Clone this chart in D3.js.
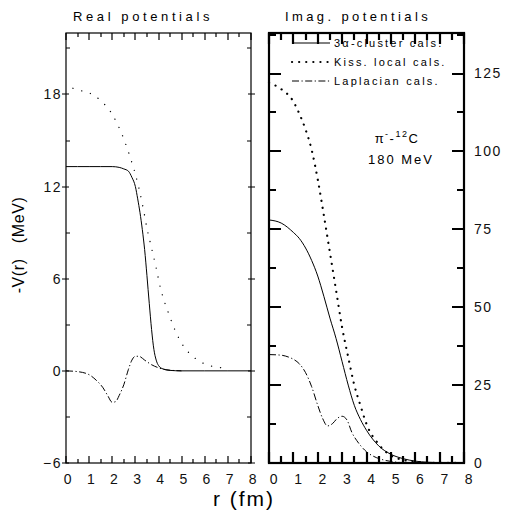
<!DOCTYPE html>
<html>
<head>
<meta charset="utf-8">
<script src="https://cdn.jsdelivr.net/npm/d3@7"></script>
<style>
  body { margin: 0; background: #fff; }
  svg { display: block; font-family: "Liberation Sans", Arial, sans-serif; }
</style>
</head>
<body>
<svg width="514" height="514"></svg>
<script>
// radius grid and potentials (MeV)
var rReal = [0, 0.5, 1, 1.5, 2, 2.3, 2.5, 2.7, 2.85, 3.0, 3.1, 3.2, 3.3, 3.4, 3.5, 3.6, 3.7, 3.8, 3.9, 4.0, 4.2, 4.5, 5, 6, 7, 8];
var realCluster = [13.3, 13.3, 13.3, 13.3, 13.3, 13.25, 13.15, 13.0, 12.6, 12.0, 11.2, 10.3, 9.2, 7.9, 6.2, 4.4, 2.7, 1.4, 0.7, 0.35, 0.12, 0.03, 0, 0, 0, 0];

var rKissReal = [0.3, 0.5, 1, 1.5, 2, 2.5, 2.8, 3.0, 3.3, 3.5, 3.7, 3.9, 4.1, 4.4, 4.7, 5.0, 5.3, 5.6, 6.0, 6.5, 7.0];
var realKiss = [18.4, 18.3, 18.1, 17.6, 16.7, 15.1, 13.8, 12.8, 10.9, 9.3, 8.0, 6.7, 5.3, 3.9, 2.7, 1.8, 1.2, 0.8, 0.45, 0.25, 0.18];

var rLapReal = [0, 0.5, 1, 1.3, 1.6, 1.8, 2.0, 2.15, 2.3, 2.5, 2.7, 2.85, 3.0, 3.15, 3.4, 3.7, 4.0, 4.3, 4.7, 5];
var realLap = [0, -0.05, -0.25, -0.6, -1.1, -1.6, -2.05, -2.0, -1.6, -0.9, 0.1, 0.7, 0.95, 0.95, 0.7, 0.4, 0.2, 0.08, 0.02, 0];

var rImag = [0, 0.5, 1.0, 1.25, 1.5, 1.75, 2.0, 2.25, 2.5, 2.75, 3.0, 3.25, 3.5, 3.75, 4.0, 4.5, 5.0, 5.5, 6.0, 6.5, 7.0, 8];
var imagCluster = [78, 77, 74, 72, 69, 65, 60, 53.5, 46.5, 40, 32.5, 25, 18.5, 14, 10.5, 5.5, 2.8, 1.4, 0.6, 0.25, 0.1, 0];
var imagKiss = [122, 120, 116, 112, 107, 100.5, 91, 79.5, 67.5, 55.5, 43.5, 34, 25, 18.5, 12.5, 6, 2.4, 1.0, 0.4, 0.15, 0.05, 0];

var rLapImag = [0, 0.5, 0.8, 1.0, 1.25, 1.5, 1.75, 2.0, 2.2, 2.4, 2.6, 2.8, 3.0, 3.2, 3.4, 3.6, 3.8, 4.0, 4.3, 4.6, 5.0, 5.5, 6, 8];
var imagLap = [34.8, 34.6, 34, 33.3, 31.8, 29, 24.5, 18.5, 14.3, 11.9, 12.6, 14.3, 15.0, 13.8, 9.8, 7.2, 5.2, 3.6, 2.1, 1.2, 0.5, 0.1, 0, 0];

var realTicks = [-6, 0, 6, 12, 18];
var realMinor = [-3, 3, 9, 15, 21];
var imagTicks = [0, 25, 50, 75, 100, 125];
var imagMinor = [12.5, 37.5, 62.5, 87.5, 112.5, 137.5];
var rTicks = [0, 1, 2, 3, 4, 5, 6, 7, 8];
var rMinor = [0.5, 1.5, 2.5, 3.5, 4.5, 5.5, 6.5, 7.5];
var legendNames = ["3\u03b1-cluster cals.", "Kiss. local cals.", "Laplacian cals."];

var svg = d3.select("svg");
var yTop = 33, yBottom = 463;

// left panel: real part
var xL = d3.scaleLinear().domain([0, 8]).range([66, 251]);
var yL = d3.scaleLinear().domain([-6, 22]).range([yBottom, yTop]);
// right panel: imaginary part
var xR = d3.scaleLinear().domain([0, 8]).range([269, 464]);
var yR = d3.scaleLinear().domain([0, 138]).range([yBottom, yTop]);

// all tick marks go into one path per panel, then the frame on top
function tickPath(x, y, xMaj, xMin, yMaj, yMin, w) {
  var x0 = x.range()[0], x1 = x.range()[1];
  var p = d3.path();
  rTicks.forEach(function (d) {
    var px = Math.round(x(d));
    p.moveTo(px, yBottom); p.lineTo(px, yBottom - xMaj);
    p.moveTo(px, yTop); p.lineTo(px, yTop + xMaj);
  });
  rMinor.forEach(function (d) {
    var px = Math.round(x(d));
    p.moveTo(px, yBottom); p.lineTo(px, yBottom - xMin);
    p.moveTo(px, yTop); p.lineTo(px, yTop + xMin);
  });
  yMaj.vals.forEach(function (d) {
    var py = Math.round(y(d));
    p.moveTo(x0 - yMaj.out, py); p.lineTo(x0 + yMaj.len, py);
    p.moveTo(x1 + yMaj.out, py); p.lineTo(x1 - yMaj.len, py);
  });
  yMin.vals.forEach(function (d) {
    var py = Math.round(y(d));
    p.moveTo(x0, py); p.lineTo(x0 + yMin.len, py);
    p.moveTo(x1, py); p.lineTo(x1 - yMin.len, py);
  });
  svg.append("path").attr("d", p.toString())
    .attr("fill", "none").attr("stroke", "#000").attr("stroke-width", w);
  svg.append("rect")
    .attr("x", x0).attr("y", yTop)
    .attr("width", x1 - x0).attr("height", yBottom - yTop)
    .attr("fill", "none").attr("stroke", "#000").attr("stroke-width", w);
}

tickPath(xL, yL, 7, 4, { vals: realTicks, len: 3, out: 4 }, { vals: realMinor, len: 4 }, 1.2);
tickPath(xR, yR, 11, 7, { vals: imagTicks, len: 12, out: 0 }, { vals: imagMinor, len: 7 }, 2.2);

// tick labels
function labelAxis(axis, scale, vals, tx, ty, pad) {
  var g = svg.append("g")
    .attr("transform", "translate(" + tx + "," + ty + ")")
    .call(axis(scale).tickValues(vals).tickSize(0).tickPadding(pad));
  g.select(".domain").remove();
  g.selectAll("text")
    .attr("font-family", "Liberation Sans, Arial, sans-serif")
    .attr("font-size", 14).attr("fill", "#111")
    .style("letter-spacing", "1.5px");
  return g;
}
labelAxis(d3.axisBottom, xL, rTicks, 2, yBottom, 11);
labelAxis(d3.axisBottom, xR, rTicks, 5, yBottom, 11);
labelAxis(d3.axisLeft, yL, realTicks, 66, 0, 4);
labelAxis(d3.axisRight, yR, imagTicks, 464, 0, 10).selectAll("text").attr("text-anchor", "start");

// titles
svg.append("text").attr("x", 143).attr("y", 21).attr("text-anchor", "middle")
  .attr("font-size", 13).style("letter-spacing", "3.6px").text("Real potentials");
svg.append("text").attr("x", 358).attr("y", 21).attr("text-anchor", "middle")
  .attr("font-size", 13).style("letter-spacing", "3.4px").text("Imag. potentials");
svg.append("text").attr("x", 244).attr("y", 506).attr("text-anchor", "middle")
  .attr("font-size", 21).style("letter-spacing", "2px").text("r (fm)");
svg.append("text")
  .attr("transform", "translate(24,245) rotate(-90)")
  .attr("text-anchor", "middle").attr("font-size", 16)
  .style("white-space", "pre").style("letter-spacing", "0.6px")
  .text("-V(r)   (MeV)");

// curves
var styles = [
  { dash: null, width: 1, cap: "butt" },
  { dash: "0.1 7", width: 2.2, cap: "round" },
  { dash: "7 2.5 1.2 2.5", width: 1, cap: "butt" }
];
var styleReal = { dash: "0.1 9", width: 1.3, cap: "round" };

function curve(x, y, rs, vs, st) {
  var pts = rs.map(function (r, i) { return [r, vs[i]]; });
  svg.append("path")
    .datum(pts)
    .attr("fill", "none")
    .attr("stroke", "#000")
    .attr("stroke-width", st.width)
    .attr("stroke-linecap", st.cap)
    .attr("stroke-dasharray", st.dash)
    .attr("d", d3.line()
      .x(function (d) { return x(d[0]); })
      .y(function (d) { return y(d[1]); })
      .curve(d3.curveMonotoneX));
}

curve(xL, yL, rKissReal, realKiss, styleReal);
curve(xL, yL, rLapReal, realLap, styles[2]);
curve(xL, yL, rReal, realCluster, styles[0]);

curve(xR, yR, rImag, imagKiss, styles[1]);
curve(xR, yR, rLapImag, imagLap, styles[2]);
curve(xR, yR, rImag, imagCluster, styles[0]);

// legend
var leg = svg.append("g").attr("transform", "translate(292,43)");
legendNames.forEach(function (name, i) {
  var st = styles[i];
  leg.append("line")
    .attr("x1", 0).attr("x2", 38).attr("y1", i * 19).attr("y2", i * 19)
    .attr("stroke", "#000").attr("stroke-width", st.width)
    .attr("stroke-linecap", st.cap).attr("stroke-dasharray", st.dash);
  leg.append("text")
    .attr("x", 42).attr("y", i * 19 + 4)
    .attr("font-size", 11).style("letter-spacing", "2.2px")
    .text(name);
});

// reaction label
var lab = svg.append("text").attr("x", 397).attr("y", 143).attr("text-anchor", "middle")
  .attr("font-size", 13).style("letter-spacing", "1.5px");
lab.append("tspan").text("\u03c0");
lab.append("tspan").attr("font-size", 9).attr("dy", -6).text("-");
lab.append("tspan").attr("dy", 6).text("-");
lab.append("tspan").attr("font-size", 9).attr("dy", -6).text("12");
lab.append("tspan").attr("dy", 6).text("C");
svg.append("text").attr("x", 401).attr("y", 164).attr("text-anchor", "middle")
  .attr("font-size", 13).style("letter-spacing", "2px").text("180 MeV");
</script>
</body>
</html>
